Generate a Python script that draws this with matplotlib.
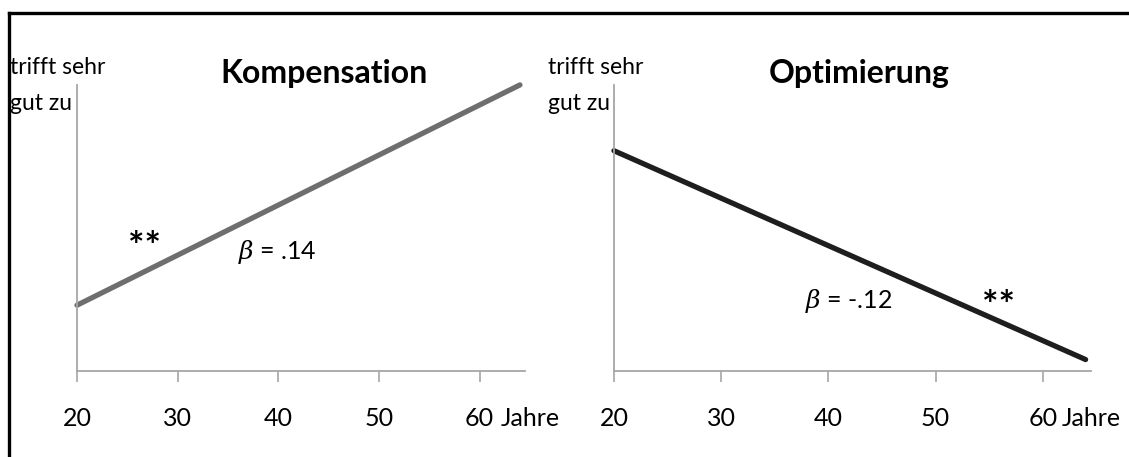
import matplotlib
matplotlib.use("Agg")
import matplotlib.pyplot as plt
from matplotlib.lines import Line2D

plt.rcParams['font.family'] = ['Lato', 'DejaVu Sans']
plt.rcParams['mathtext.fontset'] = 'dejavuserif'

# ── Data ─────────────────────────────────────────────────────────────────────
years = [20, 64]
kompensation = [0.23, 1.0]
optimierung = [0.77, 0.04]
xticks = [20, 30, 40, 50, 60]

AXIS_GRAY = '#a6a6a6'

fig = plt.figure(figsize=(11.29, 4.57), dpi=100)
ax1 = fig.add_axes([0.0682, 0.1882, 0.3968, 0.626])
ax2 = fig.add_axes([0.5438, 0.1882, 0.4225, 0.626])


def style_axis(ax):
    ax.set_xlim(20, 64.5)
    ax.set_ylim(0, 1)
    for s in ['top', 'right']:
        ax.spines[s].set_visible(False)
    for s in ['left', 'bottom']:
        ax.spines[s].set_color(AXIS_GRAY)
        ax.spines[s].set_linewidth(1.3)
    ax.set_yticks([])
    ax.set_xticks(xticks)
    ax.tick_params(axis='x', direction='out', length=8, width=1.2,
                   color=AXIS_GRAY, pad=18, labelsize=18)


def jahre(ax, x):
    # same offset as the tick labels: tick length + pad
    ax.annotate('Jahre', xy=(x, 0), xytext=(0, -26), textcoords='offset points',
                ha='left', va='top', fontsize=18, annotation_clip=False)


style_axis(ax1)
style_axis(ax2)

# ── Left: Kompensation ──────────────────────────────────────────────────────
ax1.plot(years, kompensation, color='#6e6e6e', linewidth=3.8,
         solid_capstyle='round', clip_on=False)
ax1.text(26.75, 0.43, '**', ha='center', va='center', fontsize=28,
         fontweight='bold')
ax1.text(36.0, 0.416, r'$\beta$ = .14', ha='left', va='center', fontsize=18)
jahre(ax1, 62.1)

# ── Right: Optimierung ──────────────────────────────────────────────────────
ax2.plot(years, optimierung, color='#1e1e1e', linewidth=3.8,
         solid_capstyle='round', clip_on=False)
ax2.text(37.8, 0.245, r'$\beta$ = -.12', ha='left', va='center', fontsize=18)
ax2.text(55.9, 0.225, '**', ha='center', va='center', fontsize=28,
         fontweight='bold')
jahre(ax2, 61.8)

# titles and y labels (figure coords)
fig.text(324 / 1129, 1 - 73 / 457, 'Kompensation', ha='center', va='center',
         fontsize=23, fontweight='bold')
fig.text(859 / 1129, 1 - 74 / 457, 'Optimierung', ha='center', va='center',
         fontsize=23, fontweight='bold')
for xpx in [10, 548]:
    fig.text(xpx / 1129, 1 - 68 / 457, 'trifft sehr', ha='left', va='center',
             fontsize=16.5)
    fig.text(xpx / 1129, 1 - 103 / 457, 'gut zu', ha='left', va='center',
             fontsize=16.5)

# frame lines (top and left)
fig.add_artist(Line2D([9 / 1129, 1.0], [1 - 13 / 457, 1 - 13 / 457],
                      color='black', linewidth=2.4, transform=fig.transFigure))
fig.add_artist(Line2D([9 / 1129, 9 / 1129], [0.0, 1 - 13 / 457],
                      color='black', linewidth=2.4, transform=fig.transFigure))

fig.savefig('out.png', dpi=100)
